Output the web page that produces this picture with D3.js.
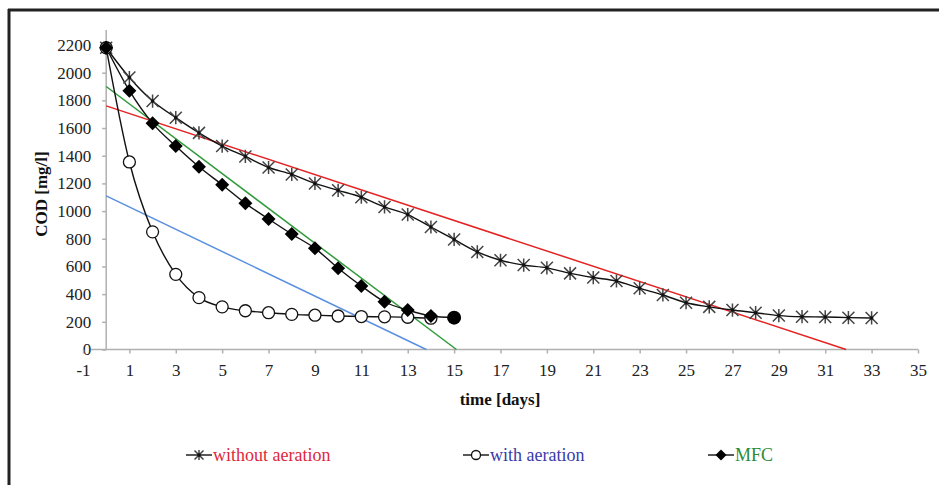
<!DOCTYPE html>
<html>
<head>
<meta charset="utf-8">
<script src="https://cdn.jsdelivr.net/npm/d3@7/dist/d3.min.js"></script>
<style>
  html, body { margin: 0; padding: 0; background: #fff; }
  svg { display: block; font-family: "Liberation Serif", "Times New Roman", serif; }
</style>
</head>
<body>
<svg width="939" height="485"></svg>
<script>
// data (COD in mg/l per day)
var daysWithout = [0,1,2,3,4,5,6,7,8,9,10,11,12,13,14,15,16,17,18,19,20,21,22,23,24,25,26,27,28,29,30,31,32,33];
var codWithout = [2180,1965,1795,1675,1565,1470,1395,1315,1265,1200,1150,1100,1030,975,885,795,705,645,610,590,550,520,495,442,394,338,308,285,266,245,237,235,230,228];

var daysWith = [0,1,2,3,4,5,6,7,8,9,10,11,12,13,14];
var codWith = [2180,1355,850,543,375,308,280,266,254,248,242,238,236,233,226];

var daysMfc = [0,1,2,3,4,5,6,7,8,9,10,11,12,13,14,15];
var codMfc = [2180,1870,1634,1470,1320,1190,1056,943,834,731,587,459,345,285,242,230];

// linear trend lines, start and end points as seen in the picture
var trendWithout = [[0,1760],[31.9,0]];
var trendWith = [[0,1110],[13.8,0]];
var trendMfc = [[0,1900],[15.1,0]];

var xTicks = [-1,1,3,5,7,9,11,13,15,17,19,21,23,25,27,29,31,33,35];
var yTicks = [0,200,400,600,800,1000,1200,1400,1600,1800,2000,2200];

var legendNames = ["without aeration","with aeration","MFC"];

function main(){
    var svg = d3.select("svg");

    var x = d3.scaleLinear().domain([-1,35]).range([83,918]);
    var y = d3.scaleLinear().domain([0,2200]).range([349.5,45]);

    // frame (top + left only)
    svg.append("line").attr("x1",8).attr("x2",939).attr("y1",10).attr("y2",10)
        .attr("stroke","#222").attr("stroke-width",3);
    svg.append("line").attr("x1",9).attr("x2",9).attr("y1",9).attr("y2",485)
        .attr("stroke","#222").attr("stroke-width",3);

    var plain = function(d){ return String(d); };

    // y axis
    var yAxis = svg.append("g")
        .attr("transform","translate(" + x(0) + ",0)")
        .call(d3.axisLeft(y).tickValues(yTicks).tickSize(4).tickPadding(11).tickFormat(plain))
        .attr("font-family","Liberation Serif");
    yAxis.select(".domain").remove();
    yAxis.selectAll(".tick line").attr("stroke","#b0b0b0").attr("stroke-width",1.5);
    yAxis.selectAll("text").attr("font-size",17).attr("fill","#222");
    svg.append("line").attr("x1",x(0)).attr("x2",x(0)).attr("y1",30).attr("y2",y(0))
        .attr("stroke","#b0b0b0").attr("stroke-width",1.5);

    // x axis
    var xAxis = svg.append("g")
        .attr("transform","translate(0," + y(0) + ")")
        .call(d3.axisBottom(x).tickValues(xTicks).tickSize(4).tickPadding(10).tickFormat(plain))
        .attr("font-family","Liberation Serif");
    xAxis.select(".domain").remove();
    xAxis.selectAll(".tick line").attr("stroke","#b0b0b0").attr("stroke-width",1.5);
    xAxis.selectAll("text").attr("font-size",17).attr("fill","#222");
    svg.append("line").attr("x1",91).attr("x2",x(35)).attr("y1",y(0)).attr("y2",y(0))
        .attr("stroke","#b0b0b0").attr("stroke-width",1.5);

    // axis titles
    svg.append("text").attr("x",500).attr("y",405).attr("text-anchor","middle")
        .attr("font-size",17).attr("font-weight","bold").attr("fill","#111").text("time [days]");
    svg.append("text").attr("transform","translate(47,194) rotate(-90)").attr("text-anchor","middle")
        .attr("font-size",17).attr("font-weight","bold").attr("fill","#111").text("COD [mg/l]");

    // trend lines
    var straight = d3.line().x(function(d){ return x(d[0]); }).y(function(d){ return y(d[1]); });
    var trends = [{pts:trendWithout, col:"#e42222"},{pts:trendWith, col:"#5b8fe0"},{pts:trendMfc, col:"#2f9a3a"}];
    trends.forEach(function(t){
        svg.append("path").attr("d",straight(t.pts)).attr("fill","none")
            .attr("stroke",t.col).attr("stroke-width",1.5);
    });

    // series lines
    var curve = d3.line().curve(d3.curveMonotoneX)
        .x(function(d){ return x(d[0]); }).y(function(d){ return y(d[1]); });
    var series = [
        {days:daysWithout, cod:codWithout, mark:"star"},
        {days:daysWith, cod:codWith, mark:"circle"},
        {days:daysMfc, cod:codMfc, mark:"diamond"}
    ];
    series.forEach(function(s){
        var pts = s.days.map(function(d,i){ return [d, s.cod[i]]; });
        svg.append("path").attr("d",curve(pts)).attr("fill","none")
            .attr("stroke","#111").attr("stroke-width",1.4);
    });

    function drawMark(g, kind, cx, cy, sz){
        if(kind === "star"){
            var r = sz;
            g.append("path")
                .attr("d","M"+(cx-r)+","+(cy-r)+"L"+(cx+r)+","+(cy+r)+"M"+(cx-r)+","+(cy+r)+"L"+(cx+r)+","+(cy-r)+"M"+cx+","+(cy-r*1.1)+"L"+cx+","+(cy+r*1.1))
                .attr("stroke","#444").attr("stroke-width",1.5).attr("fill","none");
            g.append("circle").attr("cx",cx).attr("cy",cy).attr("r",1.8).attr("fill","#111");
        } else if(kind === "circle"){
            g.append("circle").attr("cx",cx).attr("cy",cy).attr("r",sz)
                .attr("fill","#fff").attr("stroke","#111").attr("stroke-width",1.3);
        } else if(kind === "bigdot"){
            g.append("circle").attr("cx",cx).attr("cy",cy).attr("r",sz).attr("fill","#000");
        } else {
            g.append("path")
                .attr("d","M"+cx+","+(cy-sz)+"L"+(cx+sz)+","+cy+"L"+cx+","+(cy+sz)+"L"+(cx-sz)+","+cy+"Z")
                .attr("fill","#000");
        }
    }

    // markers
    var marks = svg.append("g");
    series.forEach(function(s){
        s.days.forEach(function(d,i){
            var kind = s.mark, sz = s.mark === "star" ? 6 : (s.mark === "circle" ? 6 : 7);
            if(s.mark === "diamond" && i === s.days.length - 1){ kind = "bigdot"; sz = 7; }
            drawMark(marks, kind, x(d), y(s.cod[i]), sz);
        });
    });

    // legend
    var legendX = [199,476,721];
    var legendCol = ["#e0283c","#3a3aa8","#2e8a34"];
    var legendMark = ["star","circle","diamond"];
    var lg = svg.append("g");
    legendNames.forEach(function(name,i){
        var cx = legendX[i], cy = 455;
        lg.append("line").attr("x1",cx-13).attr("x2",cx+13).attr("y1",cy).attr("y2",cy)
            .attr("stroke","#111").attr("stroke-width",1.4);
        drawMark(lg, legendMark[i], cx, cy, legendMark[i] === "star" ? 4.5 : (legendMark[i] === "circle" ? 4.5 : 5.5));
        lg.append("text").attr("x",cx+14).attr("y",cy+6).attr("font-size",18)
            .attr("fill",legendCol[i]).text(name);
    });
}
main();
</script>
</body>
</html>
